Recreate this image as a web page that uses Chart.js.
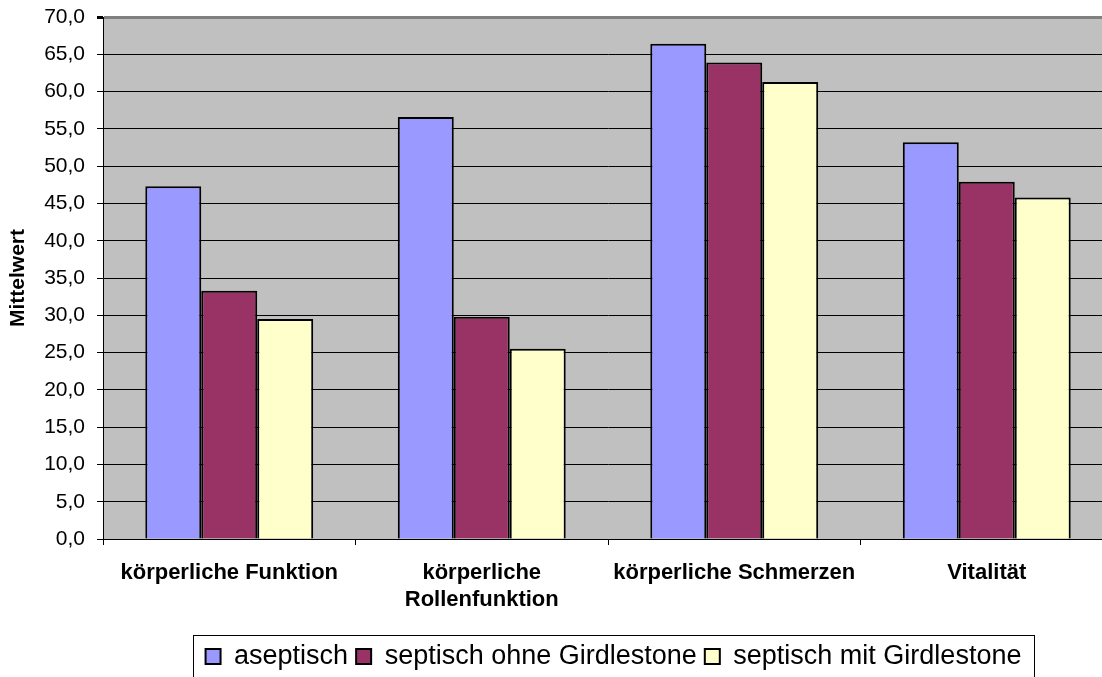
<!DOCTYPE html>
<html>
<head>
<meta charset="utf-8">
<script src="https://cdn.jsdelivr.net/npm/chart.js@4/dist/chart.umd.min.js"></script>
<style>
  html, body { margin: 0; padding: 0; background: #fff; overflow: hidden; }
  #wrap { width: 1102px; height: 677px; overflow: hidden; }
</style>
</head>
<body>
<div id="wrap"><canvas id="myChart" width="1120" height="690"></canvas></div>
<script>
  'use strict';

  // Kategorien und Mittelwerte
  const categories = ['körperliche Funktion', ['körperliche', 'Rollenfunktion'], 'körperliche Schmerzen', 'Vitalität'];
  const seriesNames = ['aseptisch', 'septisch ohne Girdlestone', 'septisch mit Girdlestone'];
  const aseptisch = [47.3, 56.6, 66.4, 53.2];
  const septischOhne = [33.3, 29.8, 63.9, 47.9];
  const septischMit = [29.5, 25.5, 61.3, 45.8];
  const yMin = 0, yMax = 70, yStep = 5;

  const colors = ['#9999FF', '#993366', '#FFFFCC'];
  Chart.defaults.font.family = '"Liberation Sans", Arial, sans-serif';
  Chart.defaults.color = '#000';

  // grauer Hintergrund der Zeichenfläche + Rahmen um die Legende
  const plotBg = {
    id: 'plotBg',
    beforeDraw(chart) {
      const a = chart.chartArea, ctx = chart.ctx;
      ctx.save();
      ctx.fillStyle = '#C0C0C0';
      ctx.fillRect(a.left, a.top, a.right - a.left, a.bottom - a.top);
      ctx.restore();
    },
    afterUpdate(chart) {
      const lg = chart.legend;
      lg.left = 193;
      lg.right = 1034;
      lg.width = lg.right - lg.left;
    },
    afterDraw(chart) {
      const lg = chart.legend, ctx = chart.ctx;
      ctx.save();
      ctx.strokeStyle = '#000';
      ctx.lineWidth = 1;
      ctx.strokeRect(lg.left + 0.5, lg.top + 0.5, lg.width, lg.height);
      ctx.restore();
    }
  };

  const data = {
    labels: categories,
    datasets: [aseptisch, septischOhne, septischMit].map((d, i) => ({
      label: seriesNames[i],
      data: d,
      backgroundColor: colors[i],
      borderColor: '#000',
      borderWidth: 2,
      categoryPercentage: 0.665,
      barPercentage: 1.0,
    }))
  };

  const options = {
    responsive: false,
    animation: false,
    layout: { padding: { top: 17, right: 7, left: 0, bottom: 10 } },
    scales: {
      y: {
        min: yMin,
        max: yMax,
        ticks: {
          stepSize: yStep,
          padding: 12,
          font: { size: 21 },
          callback: v => v.toFixed(1).replace('.', ','),
        },
        grid: {
          color: ctx => ctx.tick && ctx.tick.value === yMax ? '#808080' : '#000',
          lineWidth: ctx => ctx.tick && ctx.tick.value === yMax ? 3 : 1,
          tickLength: 6,
          tickColor: '#000',
        },
        border: { display: true, color: '#000', width: 1 },
        title: {
          display: true,
          text: 'Mittelwert',
          font: { size: 21, weight: 'bold' },
          padding: { top: 6, bottom: 0 },
        },
        afterFit(scale) {
          scale.width = 103;
          scale.paddingTop = 0;
          scale.paddingBottom = 0;
        },
      },
      x: {
        grid: {
          offset: true,
          drawOnChartArea: false,
          drawTicks: true,
          tickLength: 6,
          color: '#000',
        },
        border: { display: true, color: '#000', width: 1 },
        ticks: {
          padding: 14,
          maxRotation: 0,
          autoSkip: false,
          font: { size: 22, weight: 'bold', lineHeight: 1.25 },
        },
        afterFit(scale) {
          scale.height = 96;
          scale.paddingLeft = 0;
          scale.paddingRight = 0;
        },
      },
    },
    plugins: {
      legend: {
        position: 'bottom',
        labels: {
          boxWidth: 15,
          boxHeight: 15,
          padding: 8,
          font: { size: 27 },
          color: '#000',
        },
      },
      tooltip: { enabled: false },
    },
  };

  const ctx = document.getElementById('myChart').getContext('2d');
  new Chart(ctx, { type: 'bar', data: data, options: options, plugins: [plotBg] });
</script>
</body>
</html>
